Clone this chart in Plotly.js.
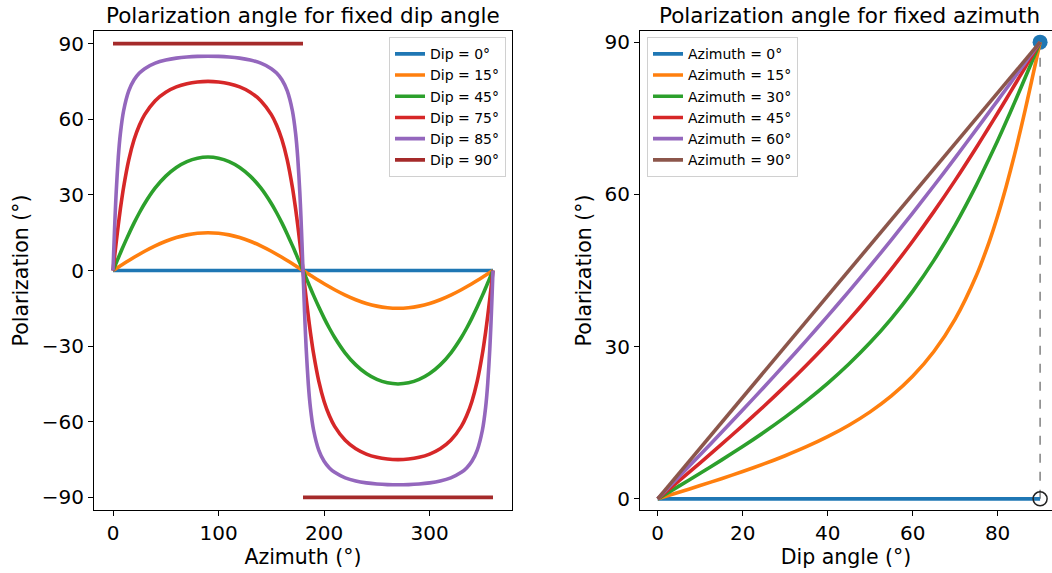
<!DOCTYPE html>
<html>
<head>
<meta charset="utf-8">
<script src="https://cdn.plot.ly/plotly-3.0.1.min.js"></script>
<style>html,body{margin:0;padding:0;background:#fff;}#chart{width:1052px;height:573px;}</style>
</head>
<body>
<div id="chart"></div>
<script>
// ---------- Left panel: polarization vs azimuth for fixed dip ----------
const azimuth = [0,1,2,3,5,7,10,15,20,25,30,40,50,60,70,80,90,100,110,120,130,140,150,155,160,165,170,173,175,177,178,179,180,
  181,182,183,185,187,190,195,200,205,210,220,230,240,250,260,270,280,290,300,310,320,330,335,340,345,350,353,355,357,358,359,360];
const dip0Az = [0, 360];
const dip0Pol = [0, 0];
const dip15Pol = [0,0.27,0.54,0.80,1.34,1.87,2.66,3.97,5.24,6.46,7.63,9.77,11.60,13.06,14.13,14.78,15.0,14.78,14.13,13.06,11.60,9.77,7.63,6.46,5.24,3.97,2.66,1.87,1.34,0.80,0.54,0.27,0,
  -0.27,-0.54,-0.80,-1.34,-1.87,-2.66,-3.97,-5.24,-6.46,-7.63,-9.77,-11.60,-13.06,-14.13,-14.78,-15.0,-14.78,-14.13,-13.06,-11.60,-9.77,-7.63,-6.46,-5.24,-3.97,-2.66,-1.87,-1.34,-0.80,-0.54,-0.27,0];
const dip45Pol = [0,1.0,2.0,3.0,4.98,6.95,9.86,14.51,18.88,22.91,26.57,32.74,37.45,40.89,43.22,44.56,45.0,44.56,43.22,40.89,37.45,32.74,26.57,22.91,18.88,14.51,9.86,6.95,4.98,3.0,2.0,1.0,0,
  -1.0,-2.0,-3.0,-4.98,-6.95,-9.86,-14.51,-18.88,-22.91,-26.57,-32.74,-37.45,-40.89,-43.22,-44.56,-45.0,-44.56,-43.22,-40.89,-37.45,-32.74,-26.57,-22.91,-18.88,-14.51,-9.86,-6.95,-4.98,-3.0,-2.0,-1.0,0];
const dip75Pol = [0,3.73,7.42,11.05,18.02,24.46,32.95,44.01,51.93,57.62,61.82,67.37,70.72,72.81,74.09,74.78,75.0,74.78,74.09,72.81,70.72,67.37,61.82,57.62,51.93,44.01,32.95,24.46,18.02,11.05,7.42,3.73,0,
  -3.73,-7.42,-11.05,-18.02,-24.46,-32.95,-44.01,-51.93,-57.62,-61.82,-67.37,-70.72,-72.81,-74.09,-74.78,-75.0,-74.78,-74.09,-72.81,-70.72,-67.37,-61.82,-57.62,-51.93,-44.01,-32.95,-24.46,-18.02,-11.05,-7.42,-3.73,0];
const dip85Pol = [0,11.28,21.75,30.89,44.89,54.33,63.26,71.33,75.65,78.30,80.07,82.25,83.48,84.23,84.68,84.92,85.0,84.92,84.68,84.23,83.48,82.25,80.07,78.30,75.65,71.33,63.26,54.33,44.89,30.89,21.75,11.28,0,
  -11.28,-21.75,-30.89,-44.89,-54.33,-63.26,-71.33,-75.65,-78.30,-80.07,-82.25,-83.48,-84.23,-84.68,-84.92,-85.0,-84.92,-84.68,-84.23,-83.48,-82.25,-80.07,-78.30,-75.65,-71.33,-63.26,-54.33,-44.89,-30.89,-21.75,-11.28,0];
const dip90Az = [0, 180, null, 180, 360];
const dip90Pol = [90, 90, null, -90, -90];
const leftLabels = ["Dip = 0°","Dip = 15°","Dip = 45°","Dip = 75°","Dip = 85°","Dip = 90°"];

// ---------- Right panel: polarization vs dip for fixed azimuth ----------
const dipAngle = [0,5,10,15,20,25,30,35,40,45,50,55,60,65,70,75,78,80,82,84,85,86,87,88,89,90];
const az0Pol  = [0,0,0,0,0,0,0,0,0,0,0,0,0,0,0,0,0,0,0,0,0,0,0,0,0,0];
const az15Pol = [0,1.30,2.61,3.97,5.38,6.88,8.50,10.27,12.25,14.51,17.14,20.28,24.15,29.03,35.41,44.01,50.60,55.73,61.50,67.89,71.33,74.88,78.55,82.32,86.14,90];
const az30Pol = [0,2.51,5.04,7.63,10.31,13.12,16.10,19.30,22.76,26.57,30.79,35.53,40.89,47.00,53.95,61.82,67.03,70.57,74.30,78.13,80.07,82.04,84.02,86.00,88.00,90];
const az45Pol = [0,3.54,7.11,10.73,14.43,18.25,22.21,26.34,30.68,35.26,40.12,45.28,50.77,56.60,62.76,69.25,73.27,76.00,78.76,81.55,82.95,84.35,85.76,87.17,88.59,90];
const az60Pol = [0,4.33,8.68,13.06,17.50,22.00,26.57,31.23,36.00,40.89,45.90,51.04,56.31,61.70,67.20,72.81,76.21,78.49,80.78,83.08,84.23,85.38,86.54,87.69,88.85,90];
const az90Pol = [0,5,10,15,20,25,30,35,40,45,50,55,60,65,70,75,78,80,82,84,85,86,87,88,89,90];
const rightLabels = ["Azimuth = 0°","Azimuth = 15°","Azimuth = 30°","Azimuth = 45°","Azimuth = 60°","Azimuth = 90°"];
const limitPointX = [90];
const limitTopY = [90];
const limitBottomY = [0];
const limitLineX = [90, 90];
const limitLineY = [0, 90];

const colors = ["#1f77b4","#ff7f0e","#2ca02c","#d62728","#9467bd","#8c564b"];
const dip90Color = "#a52a2a";
const LW = 3.6;

function line(x, y, name, color, xa, ya, leg, smooth) {
  const ln = {color: color, width: LW};
  if (smooth) { ln.shape = "spline"; ln.smoothing = 0.7; }
  return {x: x, y: y, name: name, type: "scatter", mode: "lines",
    line: ln, xaxis: xa, yaxis: ya, legend: leg, hoverinfo: "skip"};
}

const traces = [
  line(dip0Az, dip0Pol, leftLabels[0], colors[0], "x", "y", "legend", false),
  line(azimuth, dip15Pol, leftLabels[1], colors[1], "x", "y", "legend", true),
  line(azimuth, dip45Pol, leftLabels[2], colors[2], "x", "y", "legend", true),
  line(azimuth, dip75Pol, leftLabels[3], colors[3], "x", "y", "legend", true),
  line(azimuth, dip85Pol, leftLabels[4], colors[4], "x", "y", "legend", true),
  line(dip90Az, dip90Pol, leftLabels[5], dip90Color, "x", "y", "legend", false),
  {x: limitLineX, y: limitLineY, type: "scatter", mode: "lines", showlegend: false,
   line: {color: "#808080", width: 1.5, dash: "dash"}, xaxis: "x2", yaxis: "y2", hoverinfo: "skip"},
  {x: limitPointX, y: limitTopY, type: "scatter", mode: "markers", showlegend: false,
   marker: {color: colors[0], size: 15}, xaxis: "x2", yaxis: "y2", hoverinfo: "skip"},
  line(dipAngle, az0Pol, rightLabels[0], colors[0], "x2", "y2", "legend2", false),
  line(dipAngle, az15Pol, rightLabels[1], colors[1], "x2", "y2", "legend2", true),
  line(dipAngle, az30Pol, rightLabels[2], colors[2], "x2", "y2", "legend2", true),
  line(dipAngle, az45Pol, rightLabels[3], colors[3], "x2", "y2", "legend2", true),
  line(dipAngle, az60Pol, rightLabels[4], colors[4], "x2", "y2", "legend2", true),
  line(dipAngle, az90Pol, rightLabels[5], colors[5], "x2", "y2", "legend2", false),
  {x: limitPointX, y: limitBottomY, type: "scatter", mode: "markers", showlegend: false,
   marker: {symbol: "circle-open", color: "#222", size: 14, line: {width: 1.5, color: "#222"}},
   xaxis: "x2", yaxis: "y2", hoverinfo: "skip"}
];

const FONT = "DejaVu Sans, sans-serif";
const axBase = {
  showgrid: false, zeroline: false, showline: true, linecolor: "#000", linewidth: 1,
  ticks: "outside", ticklen: 5, tickwidth: 1, tickcolor: "#000",
  tickfont: {family: FONT, size: 20, color: "#000"}
};
const TITLE_SIZE = 20.5;

const W = 1052;
const L0 = 94, L1 = 512, R0 = 640;
const layout = {
  width: 1052, height: 573,
  margin: {l: 0, r: 0, t: 31, b: 63},
  paper_bgcolor: "#fff", plot_bgcolor: "#fff",
  font: {family: FONT, color: "#000"},
  showlegend: true,
  xaxis: Object.assign({}, axBase, {domain: [L0/W, L1/W], range: [-18, 378], mirror: true,
    tickvals: [0,100,200,300], anchor: "y",
    title: {text: "Azimuth (°)", font: {family: FONT, size: TITLE_SIZE, color: "#000"}, standoff: 5}}),
  yaxis: Object.assign({}, axBase, {domain: [0, 1], range: [-95, 95], mirror: true, anchor: "x",
    tickvals: [-90,-60,-30,0,30,60,90], ticktext: ["−90","−60","−30","0","30","60","90"],
    title: {text: "Polarization (°)", font: {family: FONT, size: TITLE_SIZE, color: "#000"}, standoff: 7}}),
  xaxis2: Object.assign({}, axBase, {domain: [R0/W, 1], range: [-4.16, 92.8], mirror: true,
    tickvals: [0,20,40,60,80], anchor: "y2",
    title: {text: "Dip angle (°)", font: {family: FONT, size: TITLE_SIZE, color: "#000"}, standoff: 5}}),
  yaxis2: Object.assign({}, axBase, {domain: [0, 1], range: [-2.2, 92.2], mirror: false, anchor: "x2",
    tickvals: [0,30,60,90],
    title: {text: "Polarization (°)", font: {family: FONT, size: TITLE_SIZE, color: "#000"}, standoff: 7}}),
  legend: {x: 506/W, xanchor: "right", y: 0.987, yanchor: "top",
    bgcolor: "rgba(255,255,255,0.8)", bordercolor: "#d0d0d0", borderwidth: 1,
    font: {family: FONT, size: 14, color: "#000"}, tracegroupgap: 0},
  legend2: {x: 647/W, xanchor: "left", y: 0.987, yanchor: "top",
    bgcolor: "rgba(255,255,255,0.8)", bordercolor: "#d0d0d0", borderwidth: 1,
    font: {family: FONT, size: 14, color: "#000"}, tracegroupgap: 0},
  annotations: [
    {text: "Polarization angle for fixed dip angle", xref: "paper", yref: "paper",
     x: (L0 + L1) / 2 / W, y: 1, yshift: 16, xanchor: "center", yanchor: "middle", showarrow: false,
     font: {family: FONT, size: 21.5, color: "#000"}},
    {text: "Polarization angle for fixed azimuth", xref: "paper", yref: "paper",
     x: (R0 + 1059) / 2 / W, y: 1, yshift: 16, xanchor: "center", yanchor: "middle", showarrow: false,
     font: {family: FONT, size: 21.5, color: "#000"}}
  ]
};

Plotly.newPlot("chart", traces, layout, {displayModeBar: false, staticPlot: true});
</script>
</body>
</html>
